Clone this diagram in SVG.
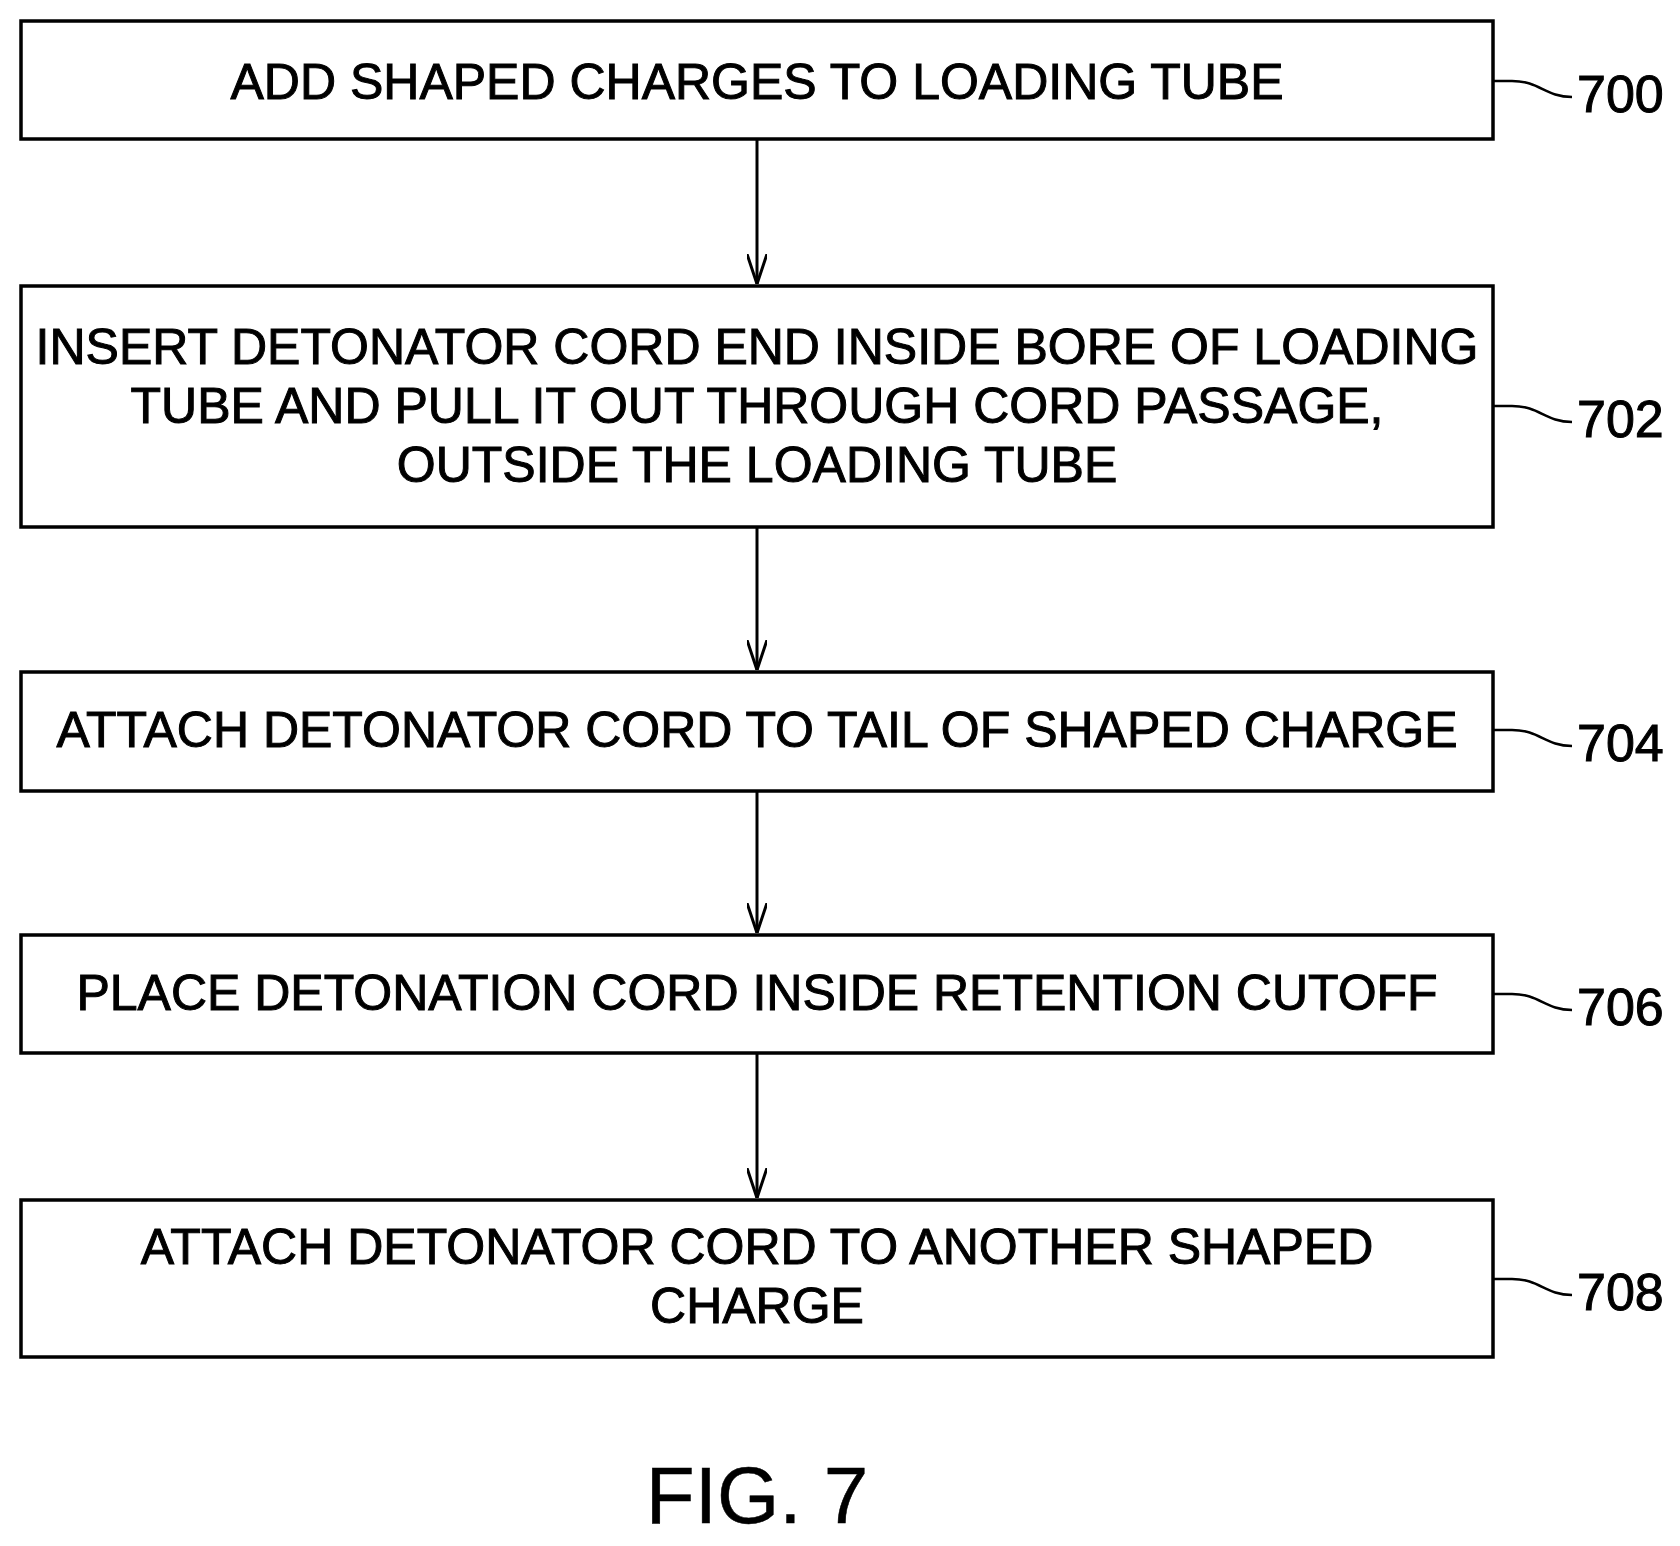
<svg xmlns="http://www.w3.org/2000/svg" width="1680" height="1546" viewBox="0 0 1680 1546">
<style>
.b{fill:#fff;stroke:#000;stroke-width:3.5}
text{font-family:"Liberation Sans",Arial,sans-serif;fill:#000;stroke:#000;stroke-width:1}
.t{font-size:50px;text-anchor:middle}
.n{font-size:52px}
.c path{fill:none;stroke:#000;stroke-width:3}
.l{fill:none;stroke:#000;stroke-width:2.5}
</style>
<defs><marker id="a" viewBox="0 0 30 20" refX="30" refY="10" markerWidth="30" markerHeight="20" markerUnits="userSpaceOnUse" orient="auto"><path d="M0 0 L30 10 L0 20" fill="none" stroke="#000" stroke-width="3"/></marker></defs>
<rect width="1680" height="1546" fill="#fff"/>
<g class="c">
<path d="M757 139V284" marker-end="url(#a)"/>
<path d="M757 527V670" marker-end="url(#a)"/>
<path d="M757 791V933" marker-end="url(#a)"/>
<path d="M757 1053V1198" marker-end="url(#a)"/>
</g>
<g id="n700"><rect class="b" x="21" y="21" width="1472" height="118"/><text class="t" x="757" y="99">ADD SHAPED CHARGES TO LOADING TUBE</text>
<path class="l" d="M1493 81H1512C1540 81 1545 97 1572 97"/><text class="n" x="1577" y="112">700</text></g>
<g id="n702"><rect class="b" x="21" y="286" width="1472" height="241"/><text class="t" x="757" y="364">INSERT DETONATOR CORD END INSIDE BORE OF LOADING</text><text class="t" x="757" y="423">TUBE AND PULL IT OUT THROUGH CORD PASSAGE,</text><text class="t" x="757" y="482">OUTSIDE THE LOADING TUBE</text>
<path class="l" d="M1493 406H1512C1540 406 1545 422 1572 422"/><text class="n" x="1577" y="437">702</text></g>
<g id="n704"><rect class="b" x="21" y="672" width="1472" height="119"/><text class="t" x="757" y="747">ATTACH DETONATOR CORD TO TAIL OF SHAPED CHARGE</text>
<path class="l" d="M1493 730H1512C1540 730 1545 746 1572 746"/><text class="n" x="1577" y="761">704</text></g>
<g id="n706"><rect class="b" x="21" y="935" width="1472" height="118"/><text class="t" x="757" y="1010">PLACE DETONATION CORD INSIDE RETENTION CUTOFF</text>
<path class="l" d="M1493 994H1512C1540 994 1545 1010 1572 1010"/><text class="n" x="1577" y="1025">706</text></g>
<g id="n708"><rect class="b" x="21" y="1200" width="1472" height="157"/><text class="t" x="757" y="1264">ATTACH DETONATOR CORD TO ANOTHER SHAPED</text><text class="t" x="757" y="1323">CHARGE</text>
<path class="l" d="M1493 1279H1512C1540 1279 1545 1295 1572 1295"/><text class="n" x="1577" y="1310">708</text></g>
<text x="757" y="1523" font-size="80" text-anchor="middle" style="stroke-width:0.5">FIG. 7</text>
</svg>
